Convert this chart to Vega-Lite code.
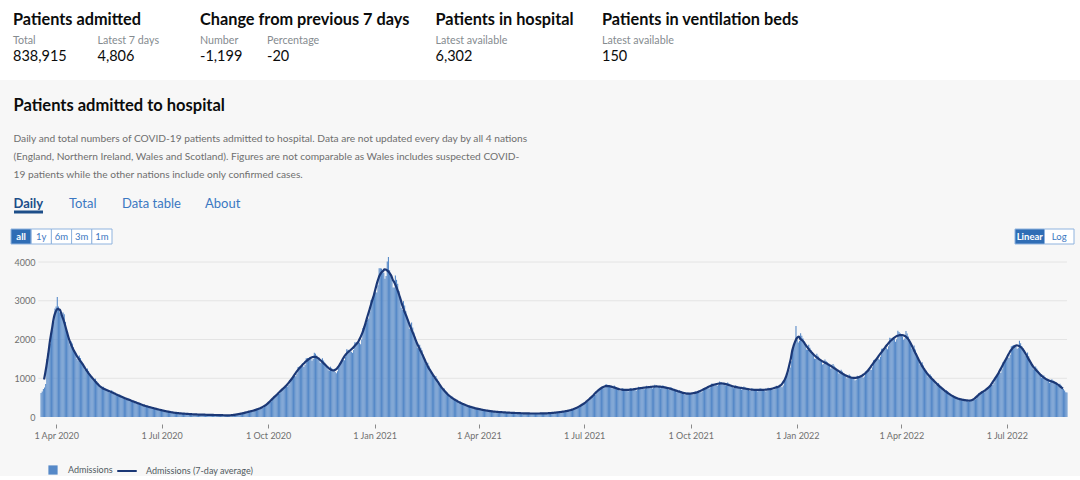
{
"$schema":"https://vega.github.io/schema/vega-lite/v6.json",
"background":"#f7f7f7",
"padding":0,
"spacing":0,
"config":{"font":"Lato","view":{"stroke":null}},
"datasets":{"admissions":[
{"date":"2020-03-18","value":620},{"date":"2020-03-19","value":660},{"date":"2020-03-20","value":720},{"date":"2020-03-21","value":760},{"date":"2020-03-22","value":850},{"date":"2020-03-23","value":1500},{"date":"2020-03-24","value":1650},{"date":"2020-03-25","value":1750},{"date":"2020-03-26","value":1900},{"date":"2020-03-27","value":2100},{"date":"2020-03-28","value":2250},{"date":"2020-03-29","value":2450},{"date":"2020-03-30","value":2800},{"date":"2020-03-31","value":2850},
{"date":"2020-04-01","value":3100},{"date":"2020-04-02","value":2850},{"date":"2020-04-03","value":2700},{"date":"2020-04-04","value":2650},{"date":"2020-04-05","value":2600},{"date":"2020-04-06","value":2700},{"date":"2020-04-07","value":2650},{"date":"2020-04-08","value":2450},{"date":"2020-04-09","value":2250},{"date":"2020-04-10","value":2100},{"date":"2020-04-11","value":1950},{"date":"2020-04-12","value":1850},{"date":"2020-04-13","value":1950},{"date":"2020-04-14","value":1900},{"date":"2020-04-15","value":1800},{"date":"2020-04-16","value":1700},{"date":"2020-04-17","value":1600},{"date":"2020-04-18","value":1500},{"date":"2020-04-19","value":1450},{"date":"2020-04-20","value":1590},{"date":"2020-04-21","value":1520},{"date":"2020-04-22","value":1450},{"date":"2020-04-23","value":1380},{"date":"2020-04-24","value":1300},{"date":"2020-04-25","value":1210},{"date":"2020-04-26","value":1200},{"date":"2020-04-27","value":1250},{"date":"2020-04-28","value":1180},{"date":"2020-04-29","value":1110},{"date":"2020-04-30","value":1065},
{"date":"2020-05-01","value":1010},{"date":"2020-05-02","value":940},{"date":"2020-05-03","value":930},{"date":"2020-05-04","value":990},{"date":"2020-05-05","value":930},{"date":"2020-05-06","value":870},{"date":"2020-05-07","value":820},{"date":"2020-05-08","value":770},{"date":"2020-05-09","value":720},{"date":"2020-05-10","value":720},{"date":"2020-05-11","value":780},{"date":"2020-05-12","value":750},{"date":"2020-05-13","value":720},{"date":"2020-05-14","value":695},{"date":"2020-05-15","value":670},{"date":"2020-05-16","value":630},{"date":"2020-05-17","value":630},{"date":"2020-05-18","value":690},{"date":"2020-05-19","value":660},{"date":"2020-05-20","value":630},{"date":"2020-05-21","value":605},{"date":"2020-05-22","value":580},{"date":"2020-05-23","value":540},{"date":"2020-05-24","value":540},{"date":"2020-05-25","value":580},{"date":"2020-05-26","value":560},{"date":"2020-05-27","value":530},{"date":"2020-05-28","value":505},{"date":"2020-05-29","value":480},{"date":"2020-05-30","value":450},{"date":"2020-05-31","value":450},
{"date":"2020-06-01","value":490},{"date":"2020-06-02","value":470},{"date":"2020-06-03","value":450},{"date":"2020-06-04","value":425},{"date":"2020-06-05","value":405},{"date":"2020-06-06","value":380},{"date":"2020-06-07","value":375},{"date":"2020-06-08","value":400},{"date":"2020-06-09","value":385},{"date":"2020-06-10","value":365},{"date":"2020-06-11","value":345},{"date":"2020-06-12","value":330},{"date":"2020-06-13","value":300},{"date":"2020-06-14","value":300},{"date":"2020-06-15","value":320},{"date":"2020-06-16","value":300},{"date":"2020-06-17","value":285},{"date":"2020-06-18","value":270},{"date":"2020-06-19","value":260},{"date":"2020-06-20","value":240},{"date":"2020-06-21","value":240},{"date":"2020-06-22","value":255},{"date":"2020-06-23","value":240},{"date":"2020-06-24","value":230},{"date":"2020-06-25","value":215},{"date":"2020-06-26","value":205},{"date":"2020-06-27","value":190},{"date":"2020-06-28","value":185},{"date":"2020-06-29","value":195},{"date":"2020-06-30","value":185},
{"date":"2020-07-01","value":175},{"date":"2020-07-02","value":165},{"date":"2020-07-03","value":155},{"date":"2020-07-04","value":140},{"date":"2020-07-05","value":140},{"date":"2020-07-06","value":145},{"date":"2020-07-07","value":140},{"date":"2020-07-08","value":130},{"date":"2020-07-09","value":125},{"date":"2020-07-10","value":115},{"date":"2020-07-11","value":105},{"date":"2020-07-12","value":105},{"date":"2020-07-13","value":110},{"date":"2020-07-14","value":105},{"date":"2020-07-15","value":100},{"date":"2020-07-16","value":95},{"date":"2020-07-17","value":90},{"date":"2020-07-18","value":85},{"date":"2020-07-19","value":85},{"date":"2020-07-20","value":90},{"date":"2020-07-21","value":85},{"date":"2020-07-22","value":85},{"date":"2020-07-23","value":80},{"date":"2020-07-24","value":75},{"date":"2020-07-25","value":70},{"date":"2020-07-26","value":70},{"date":"2020-07-27","value":75},{"date":"2020-07-28","value":75},{"date":"2020-07-29","value":70},{"date":"2020-07-30","value":65},{"date":"2020-07-31","value":65},
{"date":"2020-08-01","value":60},{"date":"2020-08-02","value":60},{"date":"2020-08-03","value":65},{"date":"2020-08-04","value":65},{"date":"2020-08-05","value":60},{"date":"2020-08-06","value":60},{"date":"2020-08-07","value":60},{"date":"2020-08-08","value":55},{"date":"2020-08-09","value":55},{"date":"2020-08-10","value":60},{"date":"2020-08-11","value":55},{"date":"2020-08-12","value":55},{"date":"2020-08-13","value":55},{"date":"2020-08-14","value":50},{"date":"2020-08-15","value":50},{"date":"2020-08-16","value":50},{"date":"2020-08-17","value":55},{"date":"2020-08-18","value":50},{"date":"2020-08-19","value":50},{"date":"2020-08-20","value":50},{"date":"2020-08-21","value":45},{"date":"2020-08-22","value":45},{"date":"2020-08-23","value":45},{"date":"2020-08-24","value":45},{"date":"2020-08-25","value":45},{"date":"2020-08-26","value":45},{"date":"2020-08-27","value":40},{"date":"2020-08-28","value":40},{"date":"2020-08-29","value":40},{"date":"2020-08-30","value":40},{"date":"2020-08-31","value":55},
{"date":"2020-09-01","value":55},{"date":"2020-09-02","value":60},{"date":"2020-09-03","value":65},{"date":"2020-09-04","value":70},{"date":"2020-09-05","value":70},{"date":"2020-09-06","value":75},{"date":"2020-09-07","value":90},{"date":"2020-09-08","value":95},{"date":"2020-09-09","value":100},{"date":"2020-09-10","value":105},{"date":"2020-09-11","value":115},{"date":"2020-09-12","value":115},{"date":"2020-09-13","value":125},{"date":"2020-09-14","value":145},{"date":"2020-09-15","value":150},{"date":"2020-09-16","value":155},{"date":"2020-09-17","value":160},{"date":"2020-09-18","value":165},{"date":"2020-09-19","value":165},{"date":"2020-09-20","value":180},{"date":"2020-09-21","value":205},{"date":"2020-09-22","value":215},{"date":"2020-09-23","value":225},{"date":"2020-09-24","value":230},{"date":"2020-09-25","value":240},{"date":"2020-09-26","value":240},{"date":"2020-09-27","value":260},{"date":"2020-09-28","value":305},{"date":"2020-09-29","value":330},{"date":"2020-09-30","value":350},
{"date":"2020-10-01","value":375},{"date":"2020-10-02","value":395},{"date":"2020-10-03","value":405},{"date":"2020-10-04","value":440},{"date":"2020-10-05","value":520},{"date":"2020-10-06","value":540},{"date":"2020-10-07","value":555},{"date":"2020-10-08","value":575},{"date":"2020-10-09","value":595},{"date":"2020-10-10","value":595},{"date":"2020-10-11","value":640},{"date":"2020-10-12","value":730},{"date":"2020-10-13","value":750},{"date":"2020-10-14","value":765},{"date":"2020-10-15","value":775},{"date":"2020-10-16","value":790},{"date":"2020-10-17","value":785},{"date":"2020-10-18","value":825},{"date":"2020-10-19","value":955},{"date":"2020-10-20","value":985},{"date":"2020-10-21","value":1010},{"date":"2020-10-22","value":1030},{"date":"2020-10-23","value":1055},{"date":"2020-10-24","value":1050},{"date":"2020-10-25","value":1120},{"date":"2020-10-26","value":1290},{"date":"2020-10-27","value":1300},{"date":"2020-10-28","value":1305},{"date":"2020-10-29","value":1310},{"date":"2020-10-30","value":1315},{"date":"2020-10-31","value":1290},
{"date":"2020-11-01","value":1345},{"date":"2020-11-02","value":1515},{"date":"2020-11-03","value":1520},{"date":"2020-11-04","value":1520},{"date":"2020-11-05","value":1510},{"date":"2020-11-06","value":1500},{"date":"2020-11-07","value":1450},{"date":"2020-11-08","value":1495},{"date":"2020-11-09","value":1660},{"date":"2020-11-10","value":1635},{"date":"2020-11-11","value":1590},{"date":"2020-11-12","value":1545},{"date":"2020-11-13","value":1490},{"date":"2020-11-14","value":1400},{"date":"2020-11-15","value":1400},{"date":"2020-11-16","value":1515},{"date":"2020-11-17","value":1455},{"date":"2020-11-18","value":1400},{"date":"2020-11-19","value":1340},{"date":"2020-11-20","value":1285},{"date":"2020-11-21","value":1205},{"date":"2020-11-22","value":1200},{"date":"2020-11-23","value":1300},{"date":"2020-11-24","value":1255},{"date":"2020-11-25","value":1215},{"date":"2020-11-26","value":1180},{"date":"2020-11-27","value":1160},{"date":"2020-11-28","value":1130},{"date":"2020-11-29","value":1180},{"date":"2020-11-30","value":1345},
{"date":"2020-12-01","value":1375},{"date":"2020-12-02","value":1410},{"date":"2020-12-03","value":1440},{"date":"2020-12-04","value":1470},{"date":"2020-12-05","value":1465},{"date":"2020-12-06","value":1555},{"date":"2020-12-07","value":1750},{"date":"2020-12-08","value":1735},{"date":"2020-12-09","value":1720},{"date":"2020-12-10","value":1690},{"date":"2020-12-11","value":1685},{"date":"2020-12-12","value":1655},{"date":"2020-12-13","value":1730},{"date":"2020-12-14","value":1930},{"date":"2020-12-15","value":1925},{"date":"2020-12-16","value":1920},{"date":"2020-12-17","value":1920},{"date":"2020-12-18","value":1920},{"date":"2020-12-19","value":1875},{"date":"2020-12-20","value":2000},{"date":"2020-12-21","value":2300},{"date":"2020-12-22","value":2340},{"date":"2020-12-23","value":2390},{"date":"2020-12-24","value":2430},{"date":"2020-12-25","value":2510},{"date":"2020-12-26","value":2540},{"date":"2020-12-27","value":2715},{"date":"2020-12-28","value":3020},{"date":"2020-12-29","value":3050},{"date":"2020-12-30","value":3070},{"date":"2020-12-31","value":3150},
{"date":"2021-01-01","value":3220},{"date":"2021-01-02","value":3215},{"date":"2021-01-03","value":3400},{"date":"2021-01-04","value":3840},{"date":"2021-01-05","value":3840},{"date":"2021-01-06","value":3830},{"date":"2021-01-07","value":3790},{"date":"2021-01-08","value":3720},{"date":"2021-01-09","value":3570},{"date":"2021-01-10","value":3640},{"date":"2021-01-11","value":4010},{"date":"2021-01-12","value":4130},{"date":"2021-01-13","value":3790},{"date":"2021-01-14","value":3670},{"date":"2021-01-15","value":3540},{"date":"2021-01-16","value":3340},{"date":"2021-01-17","value":3340},{"date":"2021-01-18","value":3650},{"date":"2021-01-19","value":3540},{"date":"2021-01-20","value":3440},{"date":"2021-01-21","value":3250},{"date":"2021-01-22","value":3060},{"date":"2021-01-23","value":2820},{"date":"2021-01-24","value":2760},{"date":"2021-01-25","value":2990},{"date":"2021-01-26","value":2880},{"date":"2021-01-27","value":2730},{"date":"2021-01-28","value":2590},{"date":"2021-01-29","value":2450},{"date":"2021-01-30","value":2275},{"date":"2021-01-31","value":2255},
{"date":"2021-02-01","value":2440},{"date":"2021-02-02","value":2310},{"date":"2021-02-03","value":2180},{"date":"2021-02-04","value":2060},{"date":"2021-02-05","value":1940},{"date":"2021-02-06","value":1785},{"date":"2021-02-07","value":1755},{"date":"2021-02-08","value":1865},{"date":"2021-02-09","value":1790},{"date":"2021-02-10","value":1725},{"date":"2021-02-11","value":1610},{"date":"2021-02-12","value":1500},{"date":"2021-02-13","value":1365},{"date":"2021-02-14","value":1325},{"date":"2021-02-15","value":1400},{"date":"2021-02-16","value":1320},{"date":"2021-02-17","value":1245},{"date":"2021-02-18","value":1170},{"date":"2021-02-19","value":1100},{"date":"2021-02-20","value":1015},{"date":"2021-02-21","value":1010},{"date":"2021-02-22","value":1060},{"date":"2021-02-23","value":990},{"date":"2021-02-24","value":920},{"date":"2021-02-25","value":860},{"date":"2021-02-26","value":800},{"date":"2021-02-27","value":735},{"date":"2021-02-28","value":710},
{"date":"2021-03-01","value":740},{"date":"2021-03-02","value":685},{"date":"2021-03-03","value":645},{"date":"2021-03-04","value":600},{"date":"2021-03-05","value":560},{"date":"2021-03-06","value":510},{"date":"2021-03-07","value":500},{"date":"2021-03-08","value":530},{"date":"2021-03-09","value":500},{"date":"2021-03-10","value":470},{"date":"2021-03-11","value":440},{"date":"2021-03-12","value":410},{"date":"2021-03-13","value":380},{"date":"2021-03-14","value":375},{"date":"2021-03-15","value":400},{"date":"2021-03-16","value":375},{"date":"2021-03-17","value":350},{"date":"2021-03-18","value":330},{"date":"2021-03-19","value":310},{"date":"2021-03-20","value":290},{"date":"2021-03-21","value":285},{"date":"2021-03-22","value":300},{"date":"2021-03-23","value":285},{"date":"2021-03-24","value":270},{"date":"2021-03-25","value":255},{"date":"2021-03-26","value":240},{"date":"2021-03-27","value":225},{"date":"2021-03-28","value":220},{"date":"2021-03-29","value":235},{"date":"2021-03-30","value":225},{"date":"2021-03-31","value":210},
{"date":"2021-04-01","value":200},{"date":"2021-04-02","value":190},{"date":"2021-04-03","value":180},{"date":"2021-04-04","value":175},{"date":"2021-04-05","value":190},{"date":"2021-04-06","value":180},{"date":"2021-04-07","value":170},{"date":"2021-04-08","value":160},{"date":"2021-04-09","value":155},{"date":"2021-04-10","value":145},{"date":"2021-04-11","value":145},{"date":"2021-04-12","value":155},{"date":"2021-04-13","value":145},{"date":"2021-04-14","value":140},{"date":"2021-04-15","value":135},{"date":"2021-04-16","value":130},{"date":"2021-04-17","value":120},{"date":"2021-04-18","value":125},{"date":"2021-04-19","value":135},{"date":"2021-04-20","value":130},{"date":"2021-04-21","value":125},{"date":"2021-04-22","value":120},{"date":"2021-04-23","value":115},{"date":"2021-04-24","value":110},{"date":"2021-04-25","value":110},{"date":"2021-04-26","value":120},{"date":"2021-04-27","value":115},{"date":"2021-04-28","value":110},{"date":"2021-04-29","value":105},{"date":"2021-04-30","value":105},
{"date":"2021-05-01","value":100},{"date":"2021-05-02","value":100},{"date":"2021-05-03","value":110},{"date":"2021-05-04","value":105},{"date":"2021-05-05","value":100},{"date":"2021-05-06","value":100},{"date":"2021-05-07","value":95},{"date":"2021-05-08","value":90},{"date":"2021-05-09","value":90},{"date":"2021-05-10","value":100},{"date":"2021-05-11","value":100},{"date":"2021-05-12","value":95},{"date":"2021-05-13","value":90},{"date":"2021-05-14","value":90},{"date":"2021-05-15","value":85},{"date":"2021-05-16","value":85},{"date":"2021-05-17","value":95},{"date":"2021-05-18","value":95},{"date":"2021-05-19","value":90},{"date":"2021-05-20","value":90},{"date":"2021-05-21","value":90},{"date":"2021-05-22","value":85},{"date":"2021-05-23","value":85},{"date":"2021-05-24","value":95},{"date":"2021-05-25","value":95},{"date":"2021-05-26","value":95},{"date":"2021-05-27","value":95},{"date":"2021-05-28","value":90},{"date":"2021-05-29","value":90},{"date":"2021-05-30","value":90},{"date":"2021-05-31","value":105},
{"date":"2021-06-01","value":105},{"date":"2021-06-02","value":105},{"date":"2021-06-03","value":105},{"date":"2021-06-04","value":105},{"date":"2021-06-05","value":105},{"date":"2021-06-06","value":110},{"date":"2021-06-07","value":125},{"date":"2021-06-08","value":125},{"date":"2021-06-09","value":130},{"date":"2021-06-10","value":130},{"date":"2021-06-11","value":130},{"date":"2021-06-12","value":130},{"date":"2021-06-13","value":135},{"date":"2021-06-14","value":155},{"date":"2021-06-15","value":160},{"date":"2021-06-16","value":160},{"date":"2021-06-17","value":165},{"date":"2021-06-18","value":170},{"date":"2021-06-19","value":170},{"date":"2021-06-20","value":180},{"date":"2021-06-21","value":210},{"date":"2021-06-22","value":220},{"date":"2021-06-23","value":225},{"date":"2021-06-24","value":235},{"date":"2021-06-25","value":245},{"date":"2021-06-26","value":250},{"date":"2021-06-27","value":270},{"date":"2021-06-28","value":320},{"date":"2021-06-29","value":335},{"date":"2021-06-30","value":345},
{"date":"2021-07-01","value":360},{"date":"2021-07-02","value":375},{"date":"2021-07-03","value":385},{"date":"2021-07-04","value":420},{"date":"2021-07-05","value":490},{"date":"2021-07-06","value":510},{"date":"2021-07-07","value":530},{"date":"2021-07-08","value":550},{"date":"2021-07-09","value":570},{"date":"2021-07-10","value":575},{"date":"2021-07-11","value":615},{"date":"2021-07-12","value":710},{"date":"2021-07-13","value":730},{"date":"2021-07-14","value":740},{"date":"2021-07-15","value":750},{"date":"2021-07-16","value":755},{"date":"2021-07-17","value":740},{"date":"2021-07-18","value":765},{"date":"2021-07-19","value":850},{"date":"2021-07-20","value":835},{"date":"2021-07-21","value":820},{"date":"2021-07-22","value":800},{"date":"2021-07-23","value":780},{"date":"2021-07-24","value":740},{"date":"2021-07-25","value":745},{"date":"2021-07-26","value":810},{"date":"2021-07-27","value":785},{"date":"2021-07-28","value":760},{"date":"2021-07-29","value":735},{"date":"2021-07-30","value":710},{"date":"2021-07-31","value":670},
{"date":"2021-08-01","value":675},{"date":"2021-08-02","value":740},{"date":"2021-08-03","value":730},{"date":"2021-08-04","value":715},{"date":"2021-08-05","value":700},{"date":"2021-08-06","value":685},{"date":"2021-08-07","value":660},{"date":"2021-08-08","value":670},{"date":"2021-08-09","value":740},{"date":"2021-08-10","value":735},{"date":"2021-08-11","value":725},{"date":"2021-08-12","value":715},{"date":"2021-08-13","value":705},{"date":"2021-08-14","value":680},{"date":"2021-08-15","value":700},{"date":"2021-08-16","value":780},{"date":"2021-08-17","value":770},{"date":"2021-08-18","value":760},{"date":"2021-08-19","value":750},{"date":"2021-08-20","value":740},{"date":"2021-08-21","value":715},{"date":"2021-08-22","value":730},{"date":"2021-08-23","value":805},{"date":"2021-08-24","value":795},{"date":"2021-08-25","value":785},{"date":"2021-08-26","value":775},{"date":"2021-08-27","value":765},{"date":"2021-08-28","value":735},{"date":"2021-08-29","value":755},{"date":"2021-08-30","value":830},{"date":"2021-08-31","value":820},
{"date":"2021-09-01","value":805},{"date":"2021-09-02","value":790},{"date":"2021-09-03","value":775},{"date":"2021-09-04","value":740},{"date":"2021-09-05","value":750},{"date":"2021-09-06","value":820},{"date":"2021-09-07","value":800},{"date":"2021-09-08","value":780},{"date":"2021-09-09","value":760},{"date":"2021-09-10","value":740},{"date":"2021-09-11","value":705},{"date":"2021-09-12","value":710},{"date":"2021-09-13","value":775},{"date":"2021-09-14","value":750},{"date":"2021-09-15","value":725},{"date":"2021-09-16","value":700},{"date":"2021-09-17","value":675},{"date":"2021-09-18","value":640},{"date":"2021-09-19","value":645},{"date":"2021-09-20","value":700},{"date":"2021-09-21","value":675},{"date":"2021-09-22","value":655},{"date":"2021-09-23","value":630},{"date":"2021-09-24","value":610},{"date":"2021-09-25","value":575},{"date":"2021-09-26","value":580},{"date":"2021-09-27","value":635},{"date":"2021-09-28","value":625},{"date":"2021-09-29","value":610},{"date":"2021-09-30","value":600},
{"date":"2021-10-01","value":595},{"date":"2021-10-02","value":575},{"date":"2021-10-03","value":590},{"date":"2021-10-04","value":655},{"date":"2021-10-05","value":650},{"date":"2021-10-06","value":650},{"date":"2021-10-07","value":645},{"date":"2021-10-08","value":645},{"date":"2021-10-09","value":635},{"date":"2021-10-10","value":660},{"date":"2021-10-11","value":745},{"date":"2021-10-12","value":750},{"date":"2021-10-13","value":750},{"date":"2021-10-14","value":750},{"date":"2021-10-15","value":750},{"date":"2021-10-16","value":735},{"date":"2021-10-17","value":765},{"date":"2021-10-18","value":860},{"date":"2021-10-19","value":855},{"date":"2021-10-20","value":845},{"date":"2021-10-21","value":840},{"date":"2021-10-22","value":835},{"date":"2021-10-23","value":805},{"date":"2021-10-24","value":825},{"date":"2021-10-25","value":915},{"date":"2021-10-26","value":905},{"date":"2021-10-27","value":885},{"date":"2021-10-28","value":870},{"date":"2021-10-29","value":850},{"date":"2021-10-30","value":810},{"date":"2021-10-31","value":815},
{"date":"2021-11-01","value":890},{"date":"2021-11-02","value":865},{"date":"2021-11-03","value":835},{"date":"2021-11-04","value":810},{"date":"2021-11-05","value":785},{"date":"2021-11-06","value":745},{"date":"2021-11-07","value":750},{"date":"2021-11-08","value":820},{"date":"2021-11-09","value":800},{"date":"2021-11-10","value":780},{"date":"2021-11-11","value":760},{"date":"2021-11-12","value":740},{"date":"2021-11-13","value":705},{"date":"2021-11-14","value":715},{"date":"2021-11-15","value":785},{"date":"2021-11-16","value":765},{"date":"2021-11-17","value":745},{"date":"2021-11-18","value":725},{"date":"2021-11-19","value":705},{"date":"2021-11-20","value":670},{"date":"2021-11-21","value":680},{"date":"2021-11-22","value":745},{"date":"2021-11-23","value":730},{"date":"2021-11-24","value":715},{"date":"2021-11-25","value":700},{"date":"2021-11-26","value":685},{"date":"2021-11-27","value":660},{"date":"2021-11-28","value":670},{"date":"2021-11-29","value":740},{"date":"2021-11-30","value":730},
{"date":"2021-12-01","value":715},{"date":"2021-12-02","value":700},{"date":"2021-12-03","value":685},{"date":"2021-12-04","value":660},{"date":"2021-12-05","value":675},{"date":"2021-12-06","value":755},{"date":"2021-12-07","value":745},{"date":"2021-12-08","value":735},{"date":"2021-12-09","value":725},{"date":"2021-12-10","value":715},{"date":"2021-12-11","value":695},{"date":"2021-12-12","value":720},{"date":"2021-12-13","value":805},{"date":"2021-12-14","value":800},{"date":"2021-12-15","value":795},{"date":"2021-12-16","value":790},{"date":"2021-12-17","value":785},{"date":"2021-12-18","value":770},{"date":"2021-12-19","value":815},{"date":"2021-12-20","value":945},{"date":"2021-12-21","value":990},{"date":"2021-12-22","value":1050},{"date":"2021-12-23","value":1120},{"date":"2021-12-24","value":1205},{"date":"2021-12-25","value":1280},{"date":"2021-12-26","value":1440},{"date":"2021-12-27","value":1740},{"date":"2021-12-28","value":1850},{"date":"2021-12-29","value":1940},{"date":"2021-12-30","value":2350},{"date":"2021-12-31","value":2000},
{"date":"2022-01-01","value":1925},{"date":"2022-01-02","value":1970},{"date":"2022-01-03","value":2160},{"date":"2022-01-04","value":2100},{"date":"2022-01-05","value":2030},{"date":"2022-01-06","value":1950},{"date":"2022-01-07","value":1860},{"date":"2022-01-08","value":1740},{"date":"2022-01-09","value":1730},{"date":"2022-01-10","value":1865},{"date":"2022-01-11","value":1790},{"date":"2022-01-12","value":1725},{"date":"2022-01-13","value":1660},{"date":"2022-01-14","value":1600},{"date":"2022-01-15","value":1505},{"date":"2022-01-16","value":1505},{"date":"2022-01-17","value":1630},{"date":"2022-01-18","value":1580},{"date":"2022-01-19","value":1530},{"date":"2022-01-20","value":1480},{"date":"2022-01-21","value":1430},{"date":"2022-01-22","value":1355},{"date":"2022-01-23","value":1365},{"date":"2022-01-24","value":1485},{"date":"2022-01-25","value":1445},{"date":"2022-01-26","value":1410},{"date":"2022-01-27","value":1370},{"date":"2022-01-28","value":1325},{"date":"2022-01-29","value":1250},{"date":"2022-01-30","value":1260},{"date":"2022-01-31","value":1365},
{"date":"2022-02-01","value":1320},{"date":"2022-02-02","value":1275},{"date":"2022-02-03","value":1230},{"date":"2022-02-04","value":1185},{"date":"2022-02-05","value":1120},{"date":"2022-02-06","value":1125},{"date":"2022-02-07","value":1220},{"date":"2022-02-08","value":1175},{"date":"2022-02-09","value":1130},{"date":"2022-02-10","value":1090},{"date":"2022-02-11","value":1055},{"date":"2022-02-12","value":995},{"date":"2022-02-13","value":1005},{"date":"2022-02-14","value":1095},{"date":"2022-02-15","value":1065},{"date":"2022-02-16","value":1035},{"date":"2022-02-17","value":1010},{"date":"2022-02-18","value":985},{"date":"2022-02-19","value":940},{"date":"2022-02-20","value":960},{"date":"2022-02-21","value":1065},{"date":"2022-02-22","value":1055},{"date":"2022-02-23","value":1050},{"date":"2022-02-24","value":1045},{"date":"2022-02-25","value":1040},{"date":"2022-02-26","value":1010},{"date":"2022-02-27","value":1045},{"date":"2022-02-28","value":1175},
{"date":"2022-03-01","value":1185},{"date":"2022-03-02","value":1195},{"date":"2022-03-03","value":1210},{"date":"2022-03-04","value":1225},{"date":"2022-03-05","value":1215},{"date":"2022-03-06","value":1285},{"date":"2022-03-07","value":1465},{"date":"2022-03-08","value":1475},{"date":"2022-03-09","value":1490},{"date":"2022-03-10","value":1500},{"date":"2022-03-11","value":1510},{"date":"2022-03-12","value":1485},{"date":"2022-03-13","value":1555},{"date":"2022-03-14","value":1760},{"date":"2022-03-15","value":1770},{"date":"2022-03-16","value":1775},{"date":"2022-03-17","value":1780},{"date":"2022-03-18","value":1785},{"date":"2022-03-19","value":1750},{"date":"2022-03-20","value":1825},{"date":"2022-03-21","value":2045},{"date":"2022-03-22","value":2040},{"date":"2022-03-23","value":2030},{"date":"2022-03-24","value":2020},{"date":"2022-03-25","value":2010},{"date":"2022-03-26","value":1945},{"date":"2022-03-27","value":2005},{"date":"2022-03-28","value":2225},{"date":"2022-03-29","value":2195},{"date":"2022-03-30","value":2160},{"date":"2022-03-31","value":2125},
{"date":"2022-04-01","value":2080},{"date":"2022-04-02","value":1995},{"date":"2022-04-03","value":2025},{"date":"2022-04-04","value":2220},{"date":"2022-04-05","value":2155},{"date":"2022-04-06","value":2080},{"date":"2022-04-07","value":2000},{"date":"2022-04-08","value":1910},{"date":"2022-04-09","value":1765},{"date":"2022-04-10","value":1740},{"date":"2022-04-11","value":1845},{"date":"2022-04-12","value":1745},{"date":"2022-04-13","value":1650},{"date":"2022-04-14","value":1560},{"date":"2022-04-15","value":1470},{"date":"2022-04-16","value":1355},{"date":"2022-04-17","value":1325},{"date":"2022-04-18","value":1410},{"date":"2022-04-19","value":1330},{"date":"2022-04-20","value":1255},{"date":"2022-04-21","value":1190},{"date":"2022-04-22","value":1125},{"date":"2022-04-23","value":1045},{"date":"2022-04-24","value":1025},{"date":"2022-04-25","value":1100},{"date":"2022-04-26","value":1050},{"date":"2022-04-27","value":1000},{"date":"2022-04-28","value":950},{"date":"2022-04-29","value":900},{"date":"2022-04-30","value":835},
{"date":"2022-05-01","value":825},{"date":"2022-05-02","value":880},{"date":"2022-05-03","value":830},{"date":"2022-05-04","value":790},{"date":"2022-05-05","value":750},{"date":"2022-05-06","value":710},{"date":"2022-05-07","value":660},{"date":"2022-05-08","value":650},{"date":"2022-05-09","value":690},{"date":"2022-05-10","value":655},{"date":"2022-05-11","value":620},{"date":"2022-05-12","value":590},{"date":"2022-05-13","value":560},{"date":"2022-05-14","value":515},{"date":"2022-05-15","value":510},{"date":"2022-05-16","value":545},{"date":"2022-05-17","value":520},{"date":"2022-05-18","value":500},{"date":"2022-05-19","value":480},{"date":"2022-05-20","value":460},{"date":"2022-05-21","value":430},{"date":"2022-05-22","value":430},{"date":"2022-05-23","value":470},{"date":"2022-05-24","value":460},{"date":"2022-05-25","value":445},{"date":"2022-05-26","value":430},{"date":"2022-05-27","value":420},{"date":"2022-05-28","value":400},{"date":"2022-05-29","value":405},{"date":"2022-05-30","value":445},{"date":"2022-05-31","value":435},
{"date":"2022-06-01","value":435},{"date":"2022-06-02","value":440},{"date":"2022-06-03","value":460},{"date":"2022-06-04","value":480},{"date":"2022-06-05","value":530},{"date":"2022-06-06","value":615},{"date":"2022-06-07","value":625},{"date":"2022-06-08","value":630},{"date":"2022-06-09","value":640},{"date":"2022-06-10","value":645},{"date":"2022-06-11","value":640},{"date":"2022-06-12","value":670},{"date":"2022-06-13","value":740},{"date":"2022-06-14","value":750},{"date":"2022-06-15","value":775},{"date":"2022-06-16","value":800},{"date":"2022-06-17","value":825},{"date":"2022-06-18","value":825},{"date":"2022-06-19","value":885},{"date":"2022-06-20","value":1030},{"date":"2022-06-21","value":1060},{"date":"2022-06-22","value":1090},{"date":"2022-06-23","value":1120},{"date":"2022-06-24","value":1145},{"date":"2022-06-25","value":1145},{"date":"2022-06-26","value":1230},{"date":"2022-06-27","value":1420},{"date":"2022-06-28","value":1455},{"date":"2022-06-29","value":1490},{"date":"2022-06-30","value":1510},
{"date":"2022-07-01","value":1535},{"date":"2022-07-02","value":1520},{"date":"2022-07-03","value":1605},{"date":"2022-07-04","value":1825},{"date":"2022-07-05","value":1840},{"date":"2022-07-06","value":1855},{"date":"2022-07-07","value":1840},{"date":"2022-07-08","value":1820},{"date":"2022-07-09","value":1755},{"date":"2022-07-10","value":1790},{"date":"2022-07-11","value":1965},{"date":"2022-07-12","value":1905},{"date":"2022-07-13","value":1835},{"date":"2022-07-14","value":1770},{"date":"2022-07-15","value":1705},{"date":"2022-07-16","value":1590},{"date":"2022-07-17","value":1565},{"date":"2022-07-18","value":1665},{"date":"2022-07-19","value":1570},{"date":"2022-07-20","value":1480},{"date":"2022-07-21","value":1390},{"date":"2022-07-22","value":1325},{"date":"2022-07-23","value":1230},{"date":"2022-07-24","value":1220},{"date":"2022-07-25","value":1305},{"date":"2022-07-26","value":1250},{"date":"2022-07-27","value":1195},{"date":"2022-07-28","value":1135},{"date":"2022-07-29","value":1090},{"date":"2022-07-30","value":1015},{"date":"2022-07-31","value":1010},
{"date":"2022-08-01","value":1080},{"date":"2022-08-02","value":1035},{"date":"2022-08-03","value":995},{"date":"2022-08-04","value":960},{"date":"2022-08-05","value":930},{"date":"2022-08-06","value":885},{"date":"2022-08-07","value":895},{"date":"2022-08-08","value":975},{"date":"2022-08-09","value":945},{"date":"2022-08-10","value":920},{"date":"2022-08-11","value":890},{"date":"2022-08-12","value":860},{"date":"2022-08-13","value":810},{"date":"2022-08-14","value":805},{"date":"2022-08-15","value":860},{"date":"2022-08-16","value":810},{"date":"2022-08-17","value":765},{"date":"2022-08-18","value":720},{"date":"2022-08-19","value":685},{"date":"2022-08-20","value":640},{"date":"2022-08-21","value":635}
]},
"vconcat":[
{
"width":1080,"height":80,
"view":{"fill":"#ffffff","stroke":null},
"data":{"values":[
{"column":1,"heading":"Patients admitted","label":"Total","value":"838,915"},
{"column":2,"label":"Latest 7 days","value":"4,806"},
{"column":3,"heading":"Change from previous 7 days","label":"Number","value":"-1,199"},
{"column":4,"label":"Percentage","value":"-20"},
{"column":5,"heading":"Patients in hospital","label":"Latest available","value":"6,302"},
{"column":6,"heading":"Patients in ventilation beds","label":"Latest available","value":"150"}
]},
"encoding":{"x":{"field":"column","type":"quantitative","scale":{"domain":[1,2,3,4,5,6],"range":[13,97.5,200,267,435.5,602]},"axis":null}},
"layer":[
{"transform":[{"filter":"isValid(datum.heading)"}],
"mark":{"type":"text","align":"left","baseline":"middle","fontSize":16.3,"fontWeight":"bold","color":"#0b0c0c"},
"encoding":{"y":{"datum":1,"type":"quantitative","scale":{"domain":[1,2,3],"range":[19.6,40.6,56.8]},"axis":null},"text":{"field":"heading"}}},
{"mark":{"type":"text","align":"left","baseline":"middle","fontSize":10.7,"color":"#858b8f"},
"encoding":{"y":{"datum":2,"type":"quantitative"},"text":{"field":"label"}}},
{"mark":{"type":"text","align":"left","baseline":"middle","fontSize":14.5,"color":"#0b0c0c"},
"encoding":{"y":{"datum":3,"type":"quantitative"},"text":{"field":"value"}}}
]
},
{
"width":1080,"height":171,
"resolve":{"scale":{"x":"independent","y":"independent"}},
"layer":[
{"layer":[
{"data":{"values":[{"text":"Patients admitted to hospital"}]},
"mark":{"type":"text","align":"left","baseline":"middle","fontSize":16.5,"fontWeight":"bold","color":"#0b0c0c"},
"encoding":{"x":{"datum":1,"type":"quantitative","scale":{"domain":[1,2,3,4],"range":[13.5,69,122,205]},"axis":null},
"y":{"datum":1,"type":"quantitative","scale":{"domain":[1,2,3],"range":[25.5,58.5,124]},"axis":null},
"text":{"field":"text"}}},
{"data":{"values":[{"text":["Daily and total numbers of COVID-19 patients admitted to hospital. Data are not updated every day by all 4 nations","(England, Northern Ireland, Wales and Scotland). Figures are not comparable as Wales includes suspected COVID-","19 patients while the other nations include only confirmed cases."]}]},
"mark":{"type":"text","align":"left","baseline":"middle","fontSize":10.2,"lineHeight":18,"color":"#6f6f6f"},
"encoding":{"x":{"datum":1,"type":"quantitative"},"y":{"datum":2,"type":"quantitative"},"text":{"field":"text"}}},
{"data":{"values":[{"tab":"Daily","order":1,"selected":true},{"tab":"Total","order":2,"selected":false},{"tab":"Data table","order":3,"selected":false},{"tab":"About","order":4,"selected":false}]},
"encoding":{"x":{"field":"order","type":"quantitative"},"y":{"datum":3,"type":"quantitative"},"text":{"field":"tab"}},
"layer":[
{"transform":[{"filter":"datum.selected"}],"mark":{"type":"text","align":"left","baseline":"middle","fontSize":13,"fontWeight":"bold","color":"#1d4e89"}},
{"transform":[{"filter":"!datum.selected"}],"mark":{"type":"text","align":"left","baseline":"middle","fontSize":13,"color":"#3b78c2"}}
]}
]},
{"data":{"values":[{"tab":"Daily"}]},
"mark":{"type":"rect","color":"#1d4e89"},
"encoding":{"x":{"field":"tab","type":"nominal","scale":{"type":"band","domain":["Daily"],"range":[14,43],"paddingInner":0,"paddingOuter":0},"axis":null},
"y":{"datum":"underline","type":"nominal","scale":{"type":"band","domain":["underline"],"range":[130.5,133.5],"paddingInner":0,"paddingOuter":0},"axis":null}}},
{"data":{"values":[{"range":"all","selected":true},{"range":"1y","selected":false},{"range":"6m","selected":false},{"range":"3m","selected":false},{"range":"1m","selected":false}]},
"encoding":{"x":{"field":"range","type":"nominal","scale":{"type":"band","domain":["all","1y","6m","3m","1m"],"range":[11,112],"paddingInner":0,"paddingOuter":0},"axis":null},
"y":{"datum":"buttons","type":"nominal","scale":{"type":"band","domain":["buttons"],"range":[149,164],"paddingInner":0,"paddingOuter":0},"axis":null}},
"layer":[
{"mark":{"type":"rect","stroke":"#8fb3de","strokeWidth":1},"encoding":{"fill":{"condition":{"test":"datum.selected","value":"#2f6db5"},"value":"#ffffff"}}},
{"transform":[{"filter":"datum.selected"}],"mark":{"type":"text","fontSize":9.5,"fontWeight":"bold","color":"#ffffff"},"encoding":{"text":{"field":"range"}}},
{"transform":[{"filter":"!datum.selected"}],"mark":{"type":"text","fontSize":9.5,"color":"#3b78c2"},"encoding":{"text":{"field":"range"}}}
]},
{"data":{"values":[{"option":"Linear","selected":true},{"option":"Log","selected":false}]},
"encoding":{"x":{"field":"option","type":"nominal","scale":{"type":"band","domain":["Linear","Log"],"range":[1015,1074],"paddingInner":0,"paddingOuter":0},"axis":null},
"y":{"datum":"buttons","type":"nominal","scale":{"type":"band","domain":["buttons"],"range":[149,164],"paddingInner":0,"paddingOuter":0},"axis":null}},
"layer":[
{"mark":{"type":"rect","stroke":"#8fb3de","strokeWidth":1},"encoding":{"fill":{"condition":{"test":"datum.selected","value":"#2f6db5"},"value":"#ffffff"}}},
{"transform":[{"filter":"datum.selected"}],"mark":{"type":"text","fontSize":9.5,"fontWeight":"bold","color":"#ffffff"},"encoding":{"text":{"field":"option"}}},
{"transform":[{"filter":"!datum.selected"}],"mark":{"type":"text","fontSize":9.5,"color":"#3b78c2"},"encoding":{"text":{"field":"option"}}}
]}
]
},
{
"width":1080,"height":166,
"data":{"name":"admissions"},
"layer":[
{"data":{"values":[{"level":1000},{"level":2000},{"level":3000},{"level":4000}]},
"mark":{"type":"rule","color":"#e4e4e4","strokeWidth":1},
"encoding":{"y":{"field":"level","type":"quantitative"},
"x":{"datum":{"year":2020,"month":3,"date":16,"hours":12},"type":"temporal"},
"x2":{"datum":{"year":2022,"month":8,"date":22}}}},
{"mark":{"type":"bar","binSpacing":0.08},
"encoding":{
"x":{"timeUnit":"yearmonthdate","field":"date","type":"temporal",
"scale":{"domain":[{"year":2020,"month":3,"date":18},{"year":2022,"month":8,"date":22}],"nice":false,"rangeMin":40,"rangeMax":1067},
"axis":{"title":null,"tickCount":{"interval":"month","step":3},"format":"%-d %b %Y","domain":false,"grid":false,"ticks":true,"tickSize":4,"tickColor":"#8a8a8a","offset":7,"labelPadding":3,"labelFontSize":9,"labelColor":"#6f6f6f","labelFlush":false,"labelOverlap":false}},
"y":{"field":"value","type":"quantitative",
"scale":{"domain":[0,4284],"nice":false},
"axis":{"title":null,"values":[0,1000,2000,3000,4000],"format":"d","grid":false,"domain":false,"ticks":false,"tickSize":0,"offset":-38,"labelPadding":3,"labelFontSize":9,"labelColor":"#6f6f6f"}},
"color":{"datum":"Admissions","type":"nominal","scale":{"range":["#5689c8"]},
"legend":{"title":null,"orient":"none","legendX":48,"legendY":465,"padding":0,"symbolType":"square","symbolSize":85,"symbolStrokeWidth":0,"labelFontSize":9,"labelColor":"#505a5f","labelOffset":10}}}},
{"transform":[
{"window":[{"op":"mean","field":"value","as":"average"},{"op":"count","as":"days"}],"frame":[-3,3],"sort":[{"field":"date","order":"ascending"}]},
{"filter":"datum.days == 7"}],
"mark":{"type":"line","strokeWidth":2.2,"interpolate":"monotone"},
"encoding":{
"x":{"timeUnit":"yearmonthdate","field":"date","type":"temporal","bandPosition":0.5},
"y":{"field":"average","type":"quantitative"},
"stroke":{"datum":"Admissions (7-day average)","type":"nominal","scale":{"range":["#1b3876"]},
"legend":{"title":null,"orient":"none","legendX":116,"legendY":460,"padding":0,"symbolType":"stroke","symbolSize":380,"symbolStrokeWidth":2,"labelFontSize":9,"labelColor":"#505a5f","labelOffset":8}}}}
]
}
]
}
